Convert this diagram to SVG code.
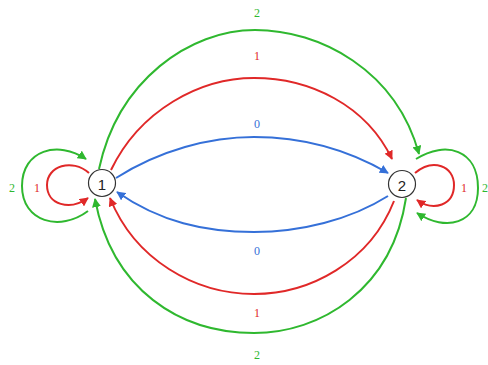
<svg xmlns="http://www.w3.org/2000/svg" width="488" height="365" viewBox="0 0 488 365">
<defs>
<marker id="ag" viewBox="0 0 10 10" refX="9" refY="5" markerWidth="9" markerHeight="9" markerUnits="userSpaceOnUse" orient="auto"><path d="M0,0 L10,5 L0,10 z" fill="#2fb82f"/></marker>
<marker id="ar" viewBox="0 0 10 10" refX="9" refY="5" markerWidth="9" markerHeight="9" markerUnits="userSpaceOnUse" orient="auto"><path d="M0,0 L10,5 L0,10 z" fill="#e02828"/></marker>
<marker id="ab" viewBox="0 0 10 10" refX="9" refY="5" markerWidth="9" markerHeight="9" markerUnits="userSpaceOnUse" orient="auto"><path d="M0,0 L10,5 L0,10 z" fill="#3570d8"/></marker>
</defs>
<style>
.e{fill:none;stroke-width:2}
.g{stroke:#2fb82f;marker-end:url(#ag)}
.r{stroke:#e02828;marker-end:url(#ar)}
.b{stroke:#3570d8;marker-end:url(#ab)}
.l{font-family:"Liberation Serif",serif;font-size:12px;text-anchor:middle;dominant-baseline:central}
.lg{fill:#2fb82f}.lr{fill:#e02828}.lb{fill:#3570d8}
.n{fill:#fff;stroke:#333;stroke-width:1.2}
.t{font-family:"Liberation Sans",sans-serif;font-size:15px;text-anchor:middle;dominant-baseline:central;fill:#222}
</style>
<g id="edges">
<path class="e g" d="M88,211 C60,232 22,222 22,186 C22,150 58,140 86,159"/>
<path class="e r" d="M89,173 C72,158 47,166 47,185 C47,205 70,211 88,198"/>
<path class="e g" d="M416,159 C446,140 478,150 478,188 C478,224 446,232 417,213"/>
<path class="e r" d="M415,173 C433,158 454,166 454,185 C454,205 434,212 417,200"/>
<path class="e g" d="M99,169 C118,80 190,30 255,30 C320,30 396,70 419,154"/>
<path class="e r" d="M111,170 C140,110 200,78 254,78 C310,78 366,105 392,159"/>
<path class="e b" d="M116,178 C160,150 210,137 254,137 C300,137 345,148 388,173"/>
<path class="e b" d="M388,196 C350,220 300,232 254,232 C205,232 160,222 117,192"/>
<path class="e r" d="M394,201 C370,262 310,294 254,294 C195,294 135,260 110,198"/>
<path class="e g" d="M406,198 C392,290 320,333 254,333 C180,333 112,290 95,199"/>
<text class="l lg" x="12" y="188">2</text>
<text class="l lr" x="37" y="188">1</text>
<text class="l lr" x="464" y="188">1</text>
<text class="l lg" x="485" y="188">2</text>
<text class="l lg" x="257" y="13">2</text>
<text class="l lr" x="257" y="56">1</text>
<text class="l lb" x="257" y="124">0</text>
<text class="l lb" x="257" y="251">0</text>
<text class="l lr" x="257" y="313">1</text>
<text class="l lg" x="257" y="355">2</text>
</g>
<g id="n1"><circle class="n" cx="102" cy="183" r="13.5"/><text class="t" x="102" y="184">1</text></g>
<g id="n2"><circle class="n" cx="402" cy="184" r="13.5"/><text class="t" x="402" y="185">2</text></g>
</svg>
